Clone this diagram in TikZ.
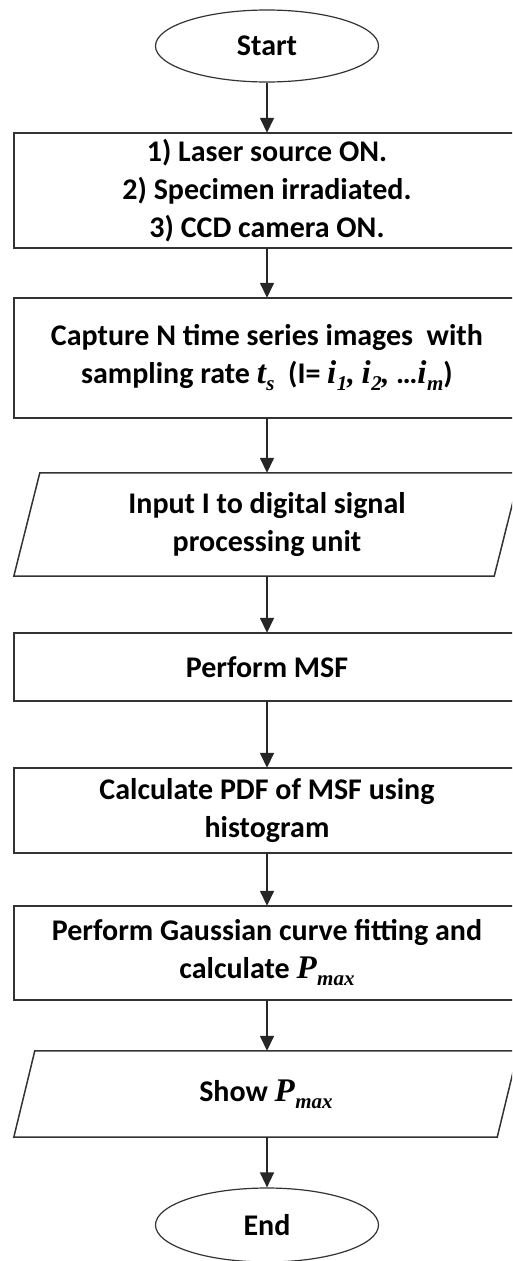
\documentclass[tikz,border=0pt]{standalone}
\usepackage{fontspec}
\setmainfont{Carlito}
\newfontfamily\mfont{Liberation Serif}
\usetikzlibrary{shapes.geometric,arrows.meta,calc}
\tikzset{
  lbl/.style={font=\fontsize{30}{38}\selectfont\bfseries, align=center, text=black, inner sep=0pt},
  boxnode/.style={lbl, rectangle, minimum width=506pt},
  boxframe/.style={draw=black!80, line width=1.5pt},
  ellnode/.style={lbl, draw=black!80, line width=1.2pt, ellipse, minimum width=223pt, minimum height=72pt},
  ionode/.style={lbl, minimum width=480pt},
  conn/.style={draw=black!85, line width=1.5pt, -{Triangle[width=14pt,length=15pt]}},
  ioshape/.style={draw=black!80, line width=1.5pt}
}
\newcommand{\mv}[2]{{\mfont\bfseries\itshape\fontsize{33}{38}\selectfont #1\kern0.5pt\raisebox{-7pt}{\fontsize{21}{21}\selectfont #2}}}
\begin{document}
\begin{tikzpicture}[x=1pt,y=-1pt]
\useasboundingbox (0,0) rectangle (512,1261);
\clip (0,0) rectangle (512,1261);
\fill[white] (0,0) rectangle (512,1261);

\node[ellnode] (start) at (267,46) {Start};
\node[boxnode, minimum height=115pt] (b1) at (267,190.5) {\raisebox{-4pt}{\parbox{300pt}{\centering 1) Laser source ON.\\2) Specimen irradiated.\\3) CCD camera ON.}}};
\node[boxnode, minimum height=120pt] (b2) at (267,358) {Capture N time series images\ \ with\\sampling rate \mv{t}{s}\ \ (I= \mv{i}{1}{\mfont\bfseries\itshape ,} \mv{i}{2}{\mfont\bfseries\itshape ,} \dots\mv{i}{m})};
\node[ionode, minimum height=103pt] (in1) at (267,524.5) {Input I to digital signal\\processing unit};
\node[boxnode, minimum height=68pt] (b3) at (267,667) {Perform MSF};
\node[boxnode, minimum height=85pt] (b4) at (267,810.5) {Calculate PDF of MSF using\\histogram};
\node[boxnode, minimum height=94pt] (b5) at (267,953) {Perform Gaussian curve fitting and\\calculate \mv{P}{max}};
\node[ionode, minimum width=483pt, minimum height=86pt] (in2) at (266,1094) {Show \mv{P}{max}};
\node[ellnode, minimum height=74pt] (end) at (267,1225) {End};

% box frames (the right edges run past the picture's edge, as in the reference)
\foreach \b in {b1,b2,b3,b4,b5}
  \draw[boxframe] (\b.north west) rectangle ($(\b.south east)+(60,0)$);
\draw[ioshape] ($(in1.south west)+(-13,0)$) -- ($(in1.south east)+(-13,0)$) -- ($(in1.north east)+(13,0)$) -- ($(in1.north west)+(13,0)$) -- cycle;
\draw[ioshape] ($(in2.south west)+(-10.5,0)$) -- ($(in2.south east)+(-10.5,0)$) -- ($(in2.north east)+(10.5,0)$) -- ($(in2.north west)+(10.5,0)$) -- cycle;

\draw[conn] (start.south) -- (b1.north);
\draw[conn] (b1.south) -- (b2.north);
\draw[conn] (b2.south) -- (in1.north);
\draw[conn] (in1.south) -- (b3.north);
\draw[conn] (b3.south) -- (b4.north);
\draw[conn] (b4.south) -- (b5.north);
\draw[conn] (b5.south) -- (in2.north -| b5.south);
\draw[conn] (in2.south -| end.north) -- (end.north);
\end{tikzpicture}
\end{document}
